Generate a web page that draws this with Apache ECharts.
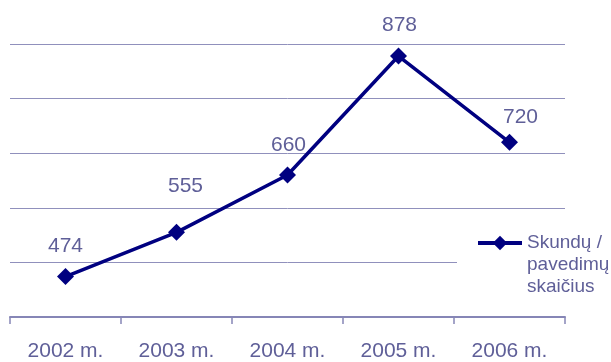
<!DOCTYPE html>
<html>
<head>
<meta charset="utf-8">
<script src="https://cdn.jsdelivr.net/npm/echarts@6/dist/echarts.min.js"></script>
<style>
  html, body { margin: 0; padding: 0; background: #fff; }
  #chart { width: 611px; height: 362px; }
</style>
</head>
<body>
<div id="chart"></div>
<script>
// Complaint / assignment counts per year
const years = ['2002 m.', '2003 m.', '2004 m.', '2005 m.', '2006 m.'];
const counts = [474, 555, 660, 878, 720];
const seriesName = 'Skundų /\npavedimų\nskaičius';

// label nudges (px) relative to each marker centre
const labelOffsets = [[0, -30], [9, -46], [1, -30], [1, -31], [11, -25]];

const textColor = '#5f5f98';
const gridColor = '#9090bc';
const axisColor = '#8686b6';
const lineColor = '#000080';
const font = 'Liberation Sans, Arial, sans-serif';

const chart = echarts.init(document.getElementById('chart'));
chart.setOption({
  animation: false,
  backgroundColor: '#fff',
  textStyle: { fontFamily: font },
  grid: { left: 10, right: 46, top: 44, bottom: 42, containLabel: false },
  xAxis: {
    type: 'category',
    data: years,
    boundaryGap: true,
    axisLine: { lineStyle: { color: axisColor, width: 2 } },
    axisTick: { show: true, length: 7, alignWithLabel: false, lineStyle: { color: axisColor, width: 1.5 } },
    axisLabel: { color: textColor, fontSize: 21, fontFamily: font, margin: 24 },
    splitLine: { show: false }
  },
  yAxis: {
    type: 'value',
    min: 400,
    max: 900,
    interval: 100,
    axisLine: { show: false },
    axisTick: { show: false },
    axisLabel: { show: false },
    splitLine: { show: true, lineStyle: { color: gridColor, width: 1 } }
  },
  legend: {
    left: 476,
    top: 188,
    padding: 0,
    itemWidth: 44,
    itemHeight: 18,
    itemGap: 0,
    lineStyle: { width: 4, color: lineColor },
    itemStyle: { color: lineColor },
    // two leading blank lines keep the marker beside the first text line
    formatter: name => '\n\n' + name,
    textStyle: {
      color: textColor,
      fontSize: 19,
      fontFamily: font,
      lineHeight: 22
    },
    data: [seriesName]
  },
  graphic: [{
    type: 'rect',
    z: 3,
    shape: { x: 457, y: 261, width: 110, height: 8 },
    style: { fill: '#fff' },
    silent: true
  }],
  series: [{
    name: seriesName,
    type: 'line',
    data: counts.map((v, i) => ({
      value: v,
      label: { offset: labelOffsets[i] }
    })),
    symbol: 'diamond',
    symbolSize: 17,
    lineStyle: { color: lineColor, width: 3.5 },
    itemStyle: { color: lineColor },
    label: {
      show: true,
      position: 'inside',
      color: textColor,
      fontSize: 21,
      fontFamily: font
    }
  }]
});
</script>
</body>
</html>
